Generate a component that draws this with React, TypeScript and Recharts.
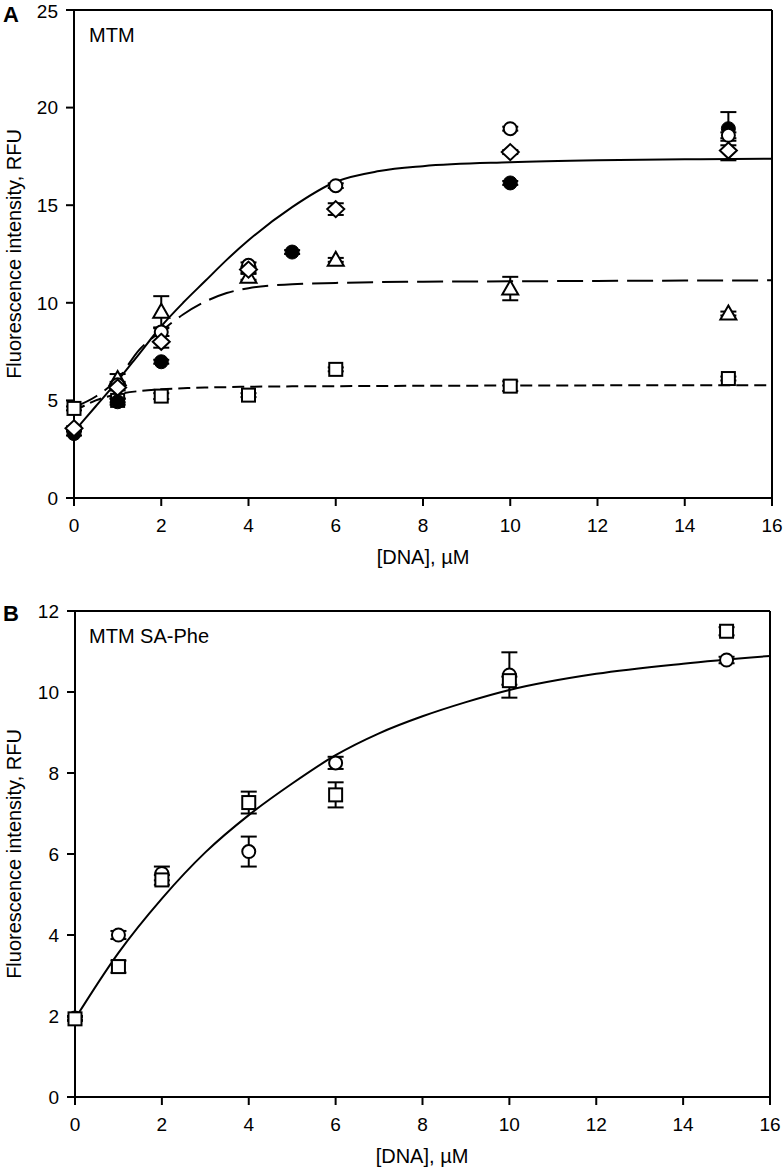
import React from 'react';
import { ComposedChart, Scatter, Line, XAxis, YAxis, ErrorBar, ReferenceLine } from 'recharts';

// ---------- Panel A data ----------
const concA = [0, 1, 2, 4, 6, 10, 15];
const concOpenA = [1, 2, 4, 6, 10, 15];
const openCircleA = [5.8, 8.5, 11.92, 16.0, 18.92, 18.58];
const openCircleAErr = [0.15, 0.2, 0.15, 0.12, 0.1, 0.15];
const diamondA = [3.57, 5.66, 8.0, 11.7, 14.8, 17.72, 17.8];
const diamondAErr = [0.1, 0.15, 0.3, 0.15, 0.3, 0.1, 0.5];
const concTriA = [1, 2, 4, 6, 10, 15];
const triangleA = [6.1, 9.54, 11.33, 12.2, 10.73, 9.45];
const triangleAErr = [0.25, 0.8, 0.15, 0.1, 0.6, 0.1];
const squareA = [4.59, 5.0, 5.22, 5.27, 6.59, 5.73, 6.12];
const squareAErr = [0.1, 0.1, 0.15, 0.1, 0.1, 0.25, 0.1];
const concFilledA = [0, 1, 2, 5, 10, 15];
const filledCircleA = [3.3, 4.93, 6.98, 12.6, 16.14, 18.92];
const filledCircleAErr = [0.1, 0.15, 0.1, 0.1, 0.1, 0.85];

const fitXA = [0, 0.5, 1, 1.5, 2, 2.5, 3, 3.5, 4, 5, 6, 7, 8, 10, 12, 14, 16];
const fitSolidA = [3.4, 4.7, 6.0, 7.4, 8.8, 10.0, 11.1, 12.2, 13.2, 14.9, 16.2, 16.75, 17.0, 17.2, 17.3, 17.35, 17.38];
const fitLongDashA = [4.65, 5.2, 6.1, 7.6, 8.55, 9.4, 10.05, 10.5, 10.75, 10.95, 11.02, 11.06, 11.08, 11.1, 11.12, 11.14, 11.15];
const fitShortDashA = [4.45, 5.0, 5.32, 5.48, 5.57, 5.62, 5.66, 5.68, 5.7, 5.72, 5.73, 5.74, 5.75, 5.76, 5.77, 5.77, 5.78];

// ---------- Panel B data ----------
const concB = [0, 1, 2, 4, 6, 10, 15];
const openCircleB = [1.95, 4.0, 5.52, 6.06, 8.25, 10.42, 10.79];
const openCircleBErr = [0.05, 0.1, 0.17, 0.37, 0.15, 0.56, 0.08];
const squareB = [1.93, 3.22, 5.36, 7.27, 7.46, 10.28, 11.5];
const squareBErr = [0.05, 0.15, 0.12, 0.27, 0.31, 0.1, 0.1];

const fitXB = [0, 1, 2, 3, 4, 5, 6, 7, 8, 9, 10, 12, 14, 16];
const fitB = [1.93, 3.56, 4.9, 6.04, 6.96, 7.74, 8.44, 8.98, 9.4, 9.75, 10.05, 10.45, 10.7, 10.89];

// ---------- Ticks / labels ----------
const xTicks = [0, 2, 4, 6, 8, 10, 12, 14, 16];
const yTicksA = [0, 5, 10, 15, 20, 25];
const yTicksB = [0, 2, 4, 6, 8, 10, 12];
const xTitle = '[DNA], \u00b5M';
const yTitle = 'Fluorescence intensity, RFU';

const pts = (xs: number[], ys: number[], es?: number[]) =>
  xs.map((x, i) => ({ x, y: ys[i], e: es ? es[i] : 0 }));

const FONT = '"Liberation Sans", Arial, sans-serif';

const OpenCircle = (p: any) => <circle cx={p.cx} cy={p.cy} r={6.5} fill="#fff" stroke="#000" strokeWidth={2} />;
const FilledCircle = (p: any) => <circle cx={p.cx} cy={p.cy} r={7} fill="#000" stroke="#000" strokeWidth={1} />;
const Diamond = (p: any) => (
  <polygon
    points={`${p.cx},${p.cy - 8} ${p.cx + 8.5},${p.cy} ${p.cx},${p.cy + 8} ${p.cx - 8.5},${p.cy}`}
    fill="#fff" stroke="#000" strokeWidth={2} />
);
const Square = (p: any) => (
  <rect x={p.cx - 6.5} y={p.cy - 6.5} width={13} height={13} fill="#fff" stroke="#000" strokeWidth={2} />
);
const Triangle = (p: any) => (
  <polygon
    points={`${p.cx},${p.cy - 8} ${p.cx + 8},${p.cy + 6} ${p.cx - 8},${p.cy + 6}`}
    fill="#fff" stroke="#000" strokeWidth={2} />
);

const tickStyle = { fill: '#000', fontSize: 19, fontFamily: FONT };
const lineStyle = { stroke: '#000', strokeWidth: 2 };

const EB = () => <ErrorBar dataKey="e" direction="y" width={8} stroke="#000" strokeWidth={2} />;

export default function App() {
  return (
    <div style={{ position: 'absolute', left: 0, top: 0, width: 784, height: 1173, background: '#fff' }}>
      <div style={{ position: 'absolute', left: 0, top: 0 }}>
        <ComposedChart width={784} height={600} margin={{ top: 10, right: 12, bottom: 62, left: 0 }}>
          <XAxis type="number" dataKey="x" domain={[0, 16]} ticks={xTicks} height={40} tickMargin={13} tickSize={8}
            tick={tickStyle} tickLine={lineStyle} axisLine={lineStyle} />
          <YAxis type="number" domain={[0, 25]} ticks={yTicksA} width={74} tickMargin={8} tickSize={8}
            tick={tickStyle} tickLine={lineStyle} axisLine={lineStyle} />
          <ReferenceLine y={25} stroke="#000" strokeWidth={2} />
          <ReferenceLine x={16} stroke="#000" strokeWidth={2} />
          <Line data={pts(fitXA, fitSolidA)} dataKey="y" type="monotone" stroke="#000" strokeWidth={2} dot={false} isAnimationActive={false} />
          <Line data={pts(fitXA, fitLongDashA)} dataKey="y" type="monotone" stroke="#000" strokeWidth={2} strokeDasharray="26 9" dot={false} isAnimationActive={false} />
          <Line data={pts(fitXA, fitShortDashA)} dataKey="y" type="monotone" stroke="#000" strokeWidth={2} strokeDasharray="12 6" dot={false} isAnimationActive={false} />
          <Scatter data={pts(concTriA, triangleA, triangleAErr)} dataKey="y" shape={Triangle} isAnimationActive={false}>{EB()}</Scatter>
          <Scatter data={pts(concA, squareA, squareAErr)} dataKey="y" shape={Square} isAnimationActive={false}>{EB()}</Scatter>
          <Scatter data={pts(concFilledA, filledCircleA, filledCircleAErr)} dataKey="y" shape={FilledCircle} isAnimationActive={false}>{EB()}</Scatter>
          <Scatter data={pts(concOpenA, openCircleA, openCircleAErr)} dataKey="y" shape={OpenCircle} isAnimationActive={false}>{EB()}</Scatter>
          <Scatter data={pts(concA, diamondA, diamondAErr)} dataKey="y" shape={Diamond} isAnimationActive={false}>{EB()}</Scatter>
        </ComposedChart>
      </div>
      <div style={{ position: 'absolute', left: 0, top: 600 }}>
        <ComposedChart width={784} height={573} margin={{ top: 11, right: 14, bottom: 36, left: 0 }}>
          <XAxis type="number" dataKey="x" domain={[0, 16]} ticks={xTicks} height={40} tickMargin={13} tickSize={8}
            tick={tickStyle} tickLine={lineStyle} axisLine={lineStyle} />
          <YAxis type="number" domain={[0, 12]} ticks={yTicksB} width={75} tickMargin={8} tickSize={8}
            tick={tickStyle} tickLine={lineStyle} axisLine={lineStyle} />
          <ReferenceLine y={12} stroke="#000" strokeWidth={2} />
          <ReferenceLine x={16} stroke="#000" strokeWidth={2} />
          <Line data={pts(fitXB, fitB)} dataKey="y" type="monotone" stroke="#000" strokeWidth={2} dot={false} isAnimationActive={false} />
          <Scatter data={pts(concB, openCircleB, openCircleBErr)} dataKey="y" shape={OpenCircle} isAnimationActive={false}>{EB()}</Scatter>
          <Scatter data={pts(concB, squareB, squareBErr)} dataKey="y" shape={Square} isAnimationActive={false}>{EB()}</Scatter>
        </ComposedChart>
      </div>
      <svg width={784} height={1173} style={{ position: 'absolute', left: 0, top: 0, pointerEvents: 'none' }}>
        <g fontFamily={FONT} fill="#000">
          <text x={3} y={21.5} fontSize={22} fontWeight="bold">A</text>
          <text x={89} y={41.5} fontSize={20}>MTM</text>
          <text x={3} y={621} fontSize={22} fontWeight="bold">B</text>
          <text x={89} y={643} fontSize={20}>MTM SA-Phe</text>
          <text x={423} y={557} fontSize={20} textAnchor="middle" dominantBaseline="central">{xTitle}</text>
          <text x={422} y={1156} fontSize={20} textAnchor="middle" dominantBaseline="central">{xTitle}</text>
          <text x={14} y={254} fontSize={20} textAnchor="middle" dominantBaseline="central" transform="rotate(-90, 14, 254)">{yTitle}</text>
          <text x={14} y={854} fontSize={20} textAnchor="middle" dominantBaseline="central" transform="rotate(-90, 14, 854)">{yTitle}</text>
        </g>
      </svg>
    </div>
  );
}
